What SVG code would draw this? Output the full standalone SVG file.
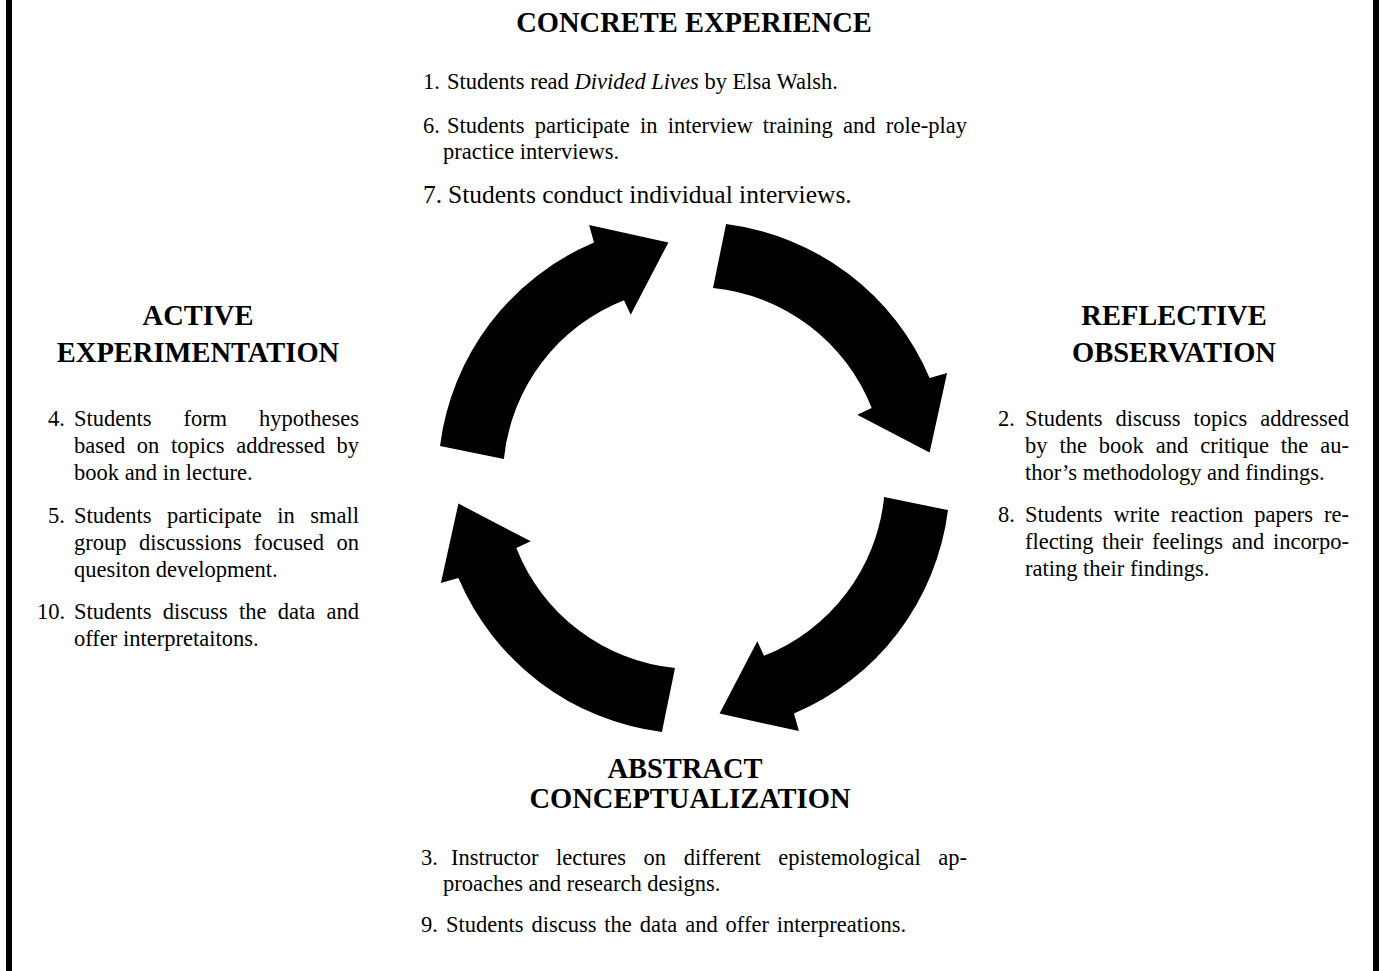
<svg xmlns="http://www.w3.org/2000/svg" width="1379" height="971" viewBox="0 0 1379 971">
  <style>
    .h { font-family: 'Liberation Serif', 'Times New Roman', serif; font-weight: bold; font-size: 28.5px; fill: #000; text-anchor: middle; }
    .t { font-family: 'Liberation Serif', 'Times New Roman', serif; font-size: 22.5px; fill: #000; }
    .big { font-size: 25.5px; }
    .arrow { fill: #000; }
    .rule { fill: #000; }
  </style>
  <defs>
    <!-- one curved block arrow of the cycle; the other three are quarter-turn copies about the ring centre (694,478) -->
    <path id="arrow" d="M 726.1 224 A 256 256 0 0 1 929.6 378 L 947.1 373.1 L 929.6 452.4 L 857.2 414.7 L 871.7 408 A 191 191 0 0 0 713 287.9 Z"/>
  </defs>

  <rect width="1379" height="971" fill="#fff"/>
  <!-- side rules -->
  <rect class="rule" x="6" y="0" width="6" height="971"/>
  <rect class="rule" x="1373" y="0" width="6" height="971"/>

  <g id="connectors" class="arrow">
    <use href="#arrow"/>
    <use href="#arrow" transform="rotate(90 694 478)"/>
    <use href="#arrow" transform="rotate(180 694 478)"/>
    <use href="#arrow" transform="rotate(270 694 478)"/>
  </g>

  <g id="concrete-experience">
    <text class="h" x="694" y="32">CONCRETE EXPERIENCE</text>
    <text class="t" x="423" y="89">1.</text>
    <text class="t" x="447" y="89">Students read <tspan font-style="italic">Divided Lives</tspan> by Elsa Walsh.</text>
    <text class="t" x="423" y="133">6.</text>
    <text class="t" x="447" y="133" word-spacing="4.6" textLength="520" lengthAdjust="spacing">Students participate in interview training and role-play</text>
    <text class="t" x="443" y="159">practice interviews.</text>
    <text class="t big" x="423" y="203">7.</text>
    <text class="t big" x="448" y="203">Students conduct individual interviews.</text>
  </g>

  <g id="reflective-observation">
    <text class="h" x="1174" y="325">REFLECTIVE</text>
    <text class="h" x="1174" y="362">OBSERVATION</text>
    <text class="t" x="998" y="426">2.</text>
    <text class="t" x="1025" y="426" word-spacing="7.4" textLength="324" lengthAdjust="spacing">Students discuss topics addressed</text>
    <text class="t" x="1025" y="453" word-spacing="6.3" textLength="324" lengthAdjust="spacing">by the book and critique the au-</text>
    <text class="t" x="1025" y="480">thor’s methodology and findings.</text>
    <text class="t" x="998" y="522">8.</text>
    <text class="t" x="1025" y="522" word-spacing="5.4" textLength="324" lengthAdjust="spacing">Students write reaction papers re-</text>
    <text class="t" x="1025" y="549" word-spacing="3.2" textLength="324" lengthAdjust="spacing">flecting their feelings and incorpo-</text>
    <text class="t" x="1025" y="576">rating their findings.</text>
  </g>

  <g id="abstract-conceptualization">
    <text class="h" x="685" y="778">ABSTRACT</text>
    <text class="h" x="690" y="808">CONCEPTUALIZATION</text>
    <text class="t" x="421" y="865">3.</text>
    <text class="t" x="451" y="865" word-spacing="12" textLength="516" lengthAdjust="spacing">Instructor lectures on different epistemological ap-</text>
    <text class="t" x="443" y="891">proaches and research designs.</text>
    <text class="t" x="421" y="932">9.</text>
    <text class="t" x="446" y="932" word-spacing="2.3">Students discuss the data and offer interpreations.</text>
  </g>

  <g id="active-experimentation">
    <text class="h" x="198" y="325">ACTIVE</text>
    <text class="h" x="198" y="362">EXPERIMENTATION</text>
    <text class="t" x="48" y="426">4.</text>
    <text class="t" x="74" y="426" word-spacing="26.4" textLength="285" lengthAdjust="spacing">Students form hypotheses</text>
    <text class="t" x="74" y="453" word-spacing="6" textLength="285" lengthAdjust="spacing">based on topics addressed by</text>
    <text class="t" x="74" y="480">book and in lecture.</text>
    <text class="t" x="48" y="523">5.</text>
    <text class="t" x="74" y="523" word-spacing="9.9" textLength="285" lengthAdjust="spacing">Students participate in small</text>
    <text class="t" x="74" y="550" word-spacing="7" textLength="285" lengthAdjust="spacing">group discussions focused on</text>
    <text class="t" x="74" y="577">quesiton development.</text>
    <text class="t" x="37" y="619">10.</text>
    <text class="t" x="74" y="619" word-spacing="5.7" textLength="285" lengthAdjust="spacing">Students discuss the data and</text>
    <text class="t" x="74" y="646">offer interpretaitons.</text>
  </g>
</svg>
